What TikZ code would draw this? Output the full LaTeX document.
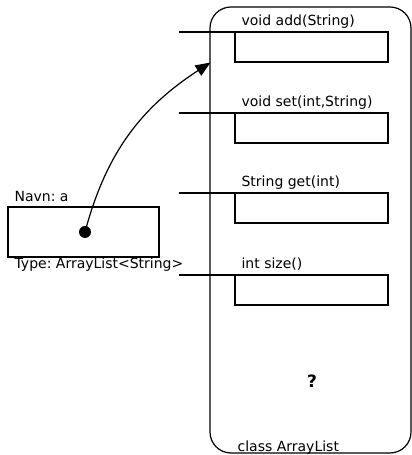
\documentclass[tikz,border=0pt]{standalone}
\usepackage{fontspec}
\setmainfont{DejaVu Sans}
\usetikzlibrary{arrows.meta, positioning}
\frenchspacing

\begin{document}
\begin{tikzpicture}[x=1pt, y=1pt, line width=1.2pt,
    txt/.style={font=\fontsize{14pt}{16pt}\selectfont, inner sep=0pt},
    methodbox/.style={draw, minimum width=153pt, minimum height=30pt, inner sep=0pt},
    >={Triangle[length=15pt, width=12pt]}]
    \useasboundingbox (0,0) rectangle (412,455);

    % Class ArrayList
    \node[draw, rounded corners=21pt, minimum width=201pt, minimum height=446pt, inner sep=0pt] (cls) at (310.5, 225) {};
    \node[txt, anchor=base west] (clsname) at (237, 3.5) {class ArrayList};
    \node[font=\fontsize{17pt}{19pt}\selectfont\bfseries, inner sep=0pt] (ukjent) at (312, 74) {?};

    % Methods
    \node[methodbox] (addbox) at (311.5, 408) {};
    \node[methodbox] (setbox) at (311.5, 327) {};
    \node[methodbox] (getbox) at (311.5, 247) {};
    \node[methodbox] (sizebox) at (311.5, 165) {};

    \node[txt, anchor=base west] (addlbl) at (241, 429) {void add(String)};
    \node[txt, anchor=base west] (setlbl) at (241, 348) {void set(int,String)};
    \node[txt, anchor=base west] (getlbl) at (241, 268) {String get(int)};
    \node[txt, anchor=base west] (sizelbl) at (241, 186) {int size()};

    % Lines into the class
    \coordinate (addin) at (179, 423);
    \coordinate (setin) at (179, 342);
    \coordinate (getin) at (179, 262);
    \coordinate (sizein) at (179, 180);
    \draw (addin) -- (addin -| 312, 0);
    \draw (setin) -- (setin -| 312, 0);
    \draw (getin) -- (getin -| 312, 0);
    \draw (sizein) -- (sizein -| 312, 0);

    % Variable a
    \node[draw, minimum width=151pt, minimum height=50pt, inner sep=0pt] (var) at (83.5, 223) {};
    \node[txt, anchor=base west] (navn) at (14, 253) {Navn: a};
    \node[txt, anchor=base west] (type) at (14, 186) {Type: ArrayList<String>};

    % Reference
    \fill (85, 223) circle (6pt) coordinate (ref);
    \coordinate (target) at (210.5, 392.5);
    \draw[->] (ref) to[out=75, in=213] (target);
\end{tikzpicture}
\end{document}
